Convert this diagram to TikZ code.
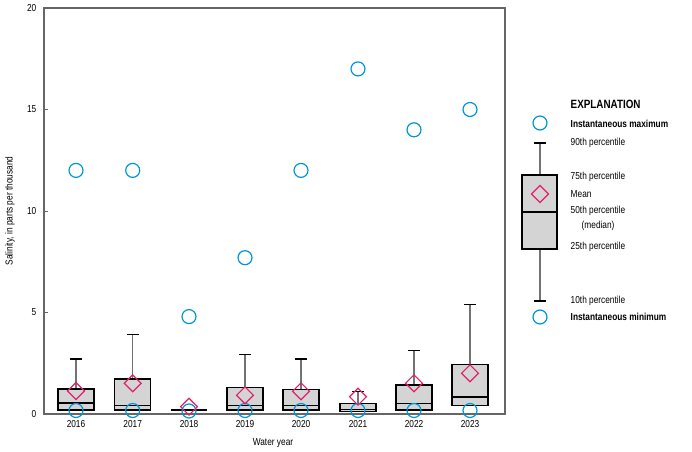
\documentclass[tikz,border=0pt]{standalone}
\usepackage{fontspec}
\setmainfont{Liberation Sans}[FakeStretch=0.82]
\begin{document}
\begin{tikzpicture}[x=0.75pt,y=-0.75pt,font=\fontsize{7.6}{9}\selectfont,
  mx/.style={draw=cyan!70!blue,line width=0.9pt,circle,minimum size=10.5pt,inner sep=0},
  mn/.style={draw=magenta!80!red,line width=0.9pt,diamond,minimum size=13pt,inner sep=0},
  bx/.style={draw=black,fill=black!17,line width=0.9pt},
  wk/.style={draw=black!55,line width=1pt},
  cp/.style={draw=black,line width=0.8pt}]
\useasboundingbox (0,0) rectangle (692,452);
\definecolor{cyan}{RGB}{0,150,214}
\definecolor{magenta}{RGB}{228,30,110}
\tikzset{mx/.append style={draw=cyan},mn/.append style={draw=magenta}}
\usetikzlibrary{shapes.geometric}
% frame
\draw[black!60,line width=0.9pt] (44,8) rectangle (505,414);
\foreach \v in {0,5,10,15,20}{
  \pgfmathsetmacro{\yy}{414-20.3*\v}
  \draw[black!60] (44,\yy) -- (48,\yy);
  \node[anchor=east] at (41,\yy) {\v};}
\node[rotate=90] at (10,211) {Salinity, in parts per thousand};
\node at (273,443) {Water year};
% boxes: cx, top, med, bot, whisk, mean, max, min
\foreach \yr/\cx/\top/\med/\bot/\wh/\mean/\mx in {
 2016/76/389/403/410/359/391/170.4,
 2017/132.7/379/405.3/410/334.7/383.3/170.4,
 2019/245/387.3/405.3/410/354.7/395.3/257.7,
 2020/301/389.3/405.3/410/359/391.3/170.4,
 2021/358/403.3/409.7/411.7/391.3/396.7/68.9,
 2022/414/385/403.3/410/350.7/383.3/129.8,
 2023/470/364.7/397/405.7/304.4/373.3/109.5}{
  \draw[wk] (\cx,\top) -- (\cx,\wh);
  \draw[cp] (\cx-6,\wh) -- (\cx+6,\wh);
  \draw[bx] (\cx-18,\top) rectangle (\cx+18,\bot);
  \draw[line width=0.8pt] (\cx-18,\med) -- (\cx+18,\med);
  \node[mx] (max\yr) at (\cx,\mx) {};
  \node[mx] (min\yr) at (\cx,410.5) {};
  \node[mn] (mean\yr) at (\cx,\mean) {};
  \node at (\cx,424) {\yr};
}
% 2018
\draw[black,line width=2pt] (171,410) -- (207,410);
\node[mx] (max2018) at (189,316.6) {};
\node[mx] (min2018) at (189,411) {};
\node[mn] (mean2018) at (189,406.7) {};
\node at (189,424) {2018};
% legend
\draw[wk] (540,143) -- (540,301);
\draw[cp] (534,143) -- (546,143);
\draw[cp] (534,301) -- (546,301);
\draw[bx] (522,175) rectangle (557,249);
\draw[line width=0.8pt] (522,212) -- (557,212);
\node[mn] (lmean) at (540,194) {};
\node[mx] (lmax) at (540,123) {};
\node[mx] (lmin) at (540,317) {};
\begin{scope}[every node/.style={anchor=west}]
\node[font=\fontsize{9}{10}\selectfont\bfseries] at (566,104) {EXPLANATION};
\node[font=\fontsize{7.6}{9}\selectfont\bfseries] at (566,124) {Instantaneous maximum};
\node at (566,143) {90th percentile};
\node at (566,177) {75th percentile};
\node at (566,194) {Mean};
\node at (566,211) {50th percentile};
\node at (577,226) {(median)};
\node at (566,247) {25th percentile};
\node at (566,301) {10th percentile};
\node[font=\fontsize{7.6}{9}\selectfont\bfseries] at (566,317) {Instantaneous minimum};
\end{scope}
\end{tikzpicture}
\end{document}
